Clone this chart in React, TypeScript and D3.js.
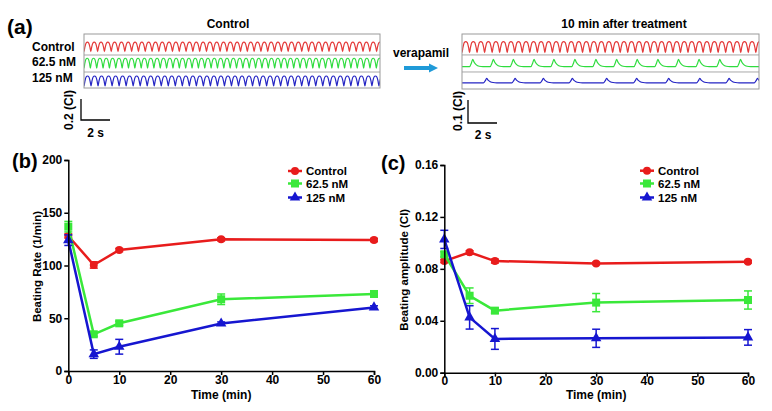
import React, { useEffect, useRef } from 'react';
import * as d3 from 'd3';

const FONT = '"Liberation Sans", Arial, sans-serif';
const RED = '#e81c1c';
const GREEN = '#3ae83a';
const BLUE = '#1616d0';
const TRACE_COLORS = ['#e43a3a', '#2fdc3f', '#2424c4'];

// ---- panel (a) traces ----
const traceNames = ['Control', '62.5 nM', '125 nM'];
// before treatment: beat period (s), trough level (CI), amplitude (CI)
const beforePeriods = [0.469, 0.438, 0.484];
const beforeLevels = [0.346, 0.188, 0.019];
const beforeAmps = [0.09, 0.095, 0.095];
// 10 min after treatment
const afterRedPeriod = 0.52;
const afterLevels = [0.158, 0.097, 0.027];
const afterAmps = [0.048, 0.032, 0.019];
const afterGreenBeats = [0.74, 2.16, 3.54, 4.97, 6.34, 7.79, 9.24, 10.67, 12.09, 13.52, 14.94, 16.36, 17.79, 19.22];
const afterBlueBeats = [1.7, 3.66, 5.61, 7.61, 9.98, 12.05, 14.26, 16.41, 18.43, 20.39];
// one beat, phase -> level
const waveShape = [[0, 0], [0.12, 0.45], [0.3, 0.9], [0.5, 1], [0.7, 0.9], [0.88, 0.45]];
// spike around peak time (s) -> level
const spikeShape = [[-0.22, 0], [-0.09, 0.5], [0, 1], [0.1, 0.6], [0.25, 0.25], [0.45, 0.06], [0.7, 0]];

// ---- panels (b), (c) ----
const times = [0, 5, 10, 30, 60];
const seriesNames = ['Control', '62.5 nM', '125 nM'];
const rateControl = [128, 100.5, 114.7, 124.8, 124.2];
const rateControlErr = [2, 3, 1.5, 1.5, 1.5];
const rate625 = [136.8, 34.8, 45.2, 68, 73];
const rate625Err = [5, 2, 2, 5, 2.5];
const rate125 = [124, 16, 23, 45, 60.3];
const rate125Err = [5, 4, 7, 1.5, 1.5];
const ampControl = [0.086, 0.0927, 0.086, 0.0842, 0.0855];
const ampControlErr = [0.0012, 0.0012, 0.0015, 0.001, 0.001];
const amp625 = [0.0912, 0.0593, 0.0478, 0.054, 0.056];
const amp625Err = [0.002, 0.006, 0.002, 0.007, 0.007];
const amp125 = [0.1027, 0.0426, 0.026, 0.0265, 0.0272];
const amp125Err = [0.007, 0.009, 0.008, 0.007, 0.006];
const rateTicks = [0, 50, 100, 150, 200];
const ampTicks = [0, 0.04, 0.08, 0.12, 0.16];
const timeTicks = [0, 10, 20, 30, 40, 50, 60];

const COLORS = [RED, GREEN, BLUE];
const SHAPES = ['circle', 'square', 'triangle'];

function periodicPoints(period: number, level: number, amp: number, duration: number) {
  const pts: [number, number][] = [];
  for (let t = -period; t < duration + period; t += period) {
    waveShape.forEach(([p, v]) => pts.push([t + p * period, level + v * amp]));
  }
  return pts;
}

function spikePoints(beats: number[], level: number, amp: number, duration: number) {
  const pts: [number, number][] = [[-1, level]];
  beats.forEach(b => spikeShape.forEach(([dt, v]) => pts.push([b + dt, level + v * amp])));
  pts.push([duration + 1, level]);
  return pts;
}

const TraceBox = ({ id, x0, x1, y0, y1, ciMax, dur, lines, dividers }) => {
  const xs = d3.scaleLinear().domain([0, dur]).range([x0, x1]);
  const ys = d3.scaleLinear().domain([0, ciMax]).range([y1, y0]);
  const line = d3.line<[number, number]>().x(d => xs(d[0])).y(d => ys(d[1])).curve(d3.curveMonotoneX);
  return (
    <g>
      <defs>
        <clipPath id={id}><rect x={x0} y={y0} width={x1 - x0} height={y1 - y0} /></clipPath>
      </defs>
      {dividers.map((d, i) => (
        <line key={i} x1={x0} x2={x1} y1={ys(d)} y2={ys(d)} stroke="#a8a8a8" strokeWidth={1} />
      ))}
      <g clipPath={`url(#${id})`}>
        {lines.map((pts, i) => (
          <path key={i} d={line(pts) || ''} fill="none" stroke={TRACE_COLORS[i]} strokeWidth={1.2} />
        ))}
      </g>
      <rect x={x0} y={y0} width={x1 - x0} height={y1 - y0} fill="none" stroke="#9a9a9a" strokeWidth={1} />
    </g>
  );
};

const Axis = ({ scale, orient, ticks, format, transform }) => {
  const ref = useRef<SVGGElement>(null);
  useEffect(() => {
    const ax = orient === 'left' ? d3.axisLeft(scale) : d3.axisBottom(scale);
    ax.tickValues(ticks).tickFormat(format).tickSizeOuter(0).tickSize(4).tickPadding(orient === 'left' ? 2 : 0);
    const g = d3.select(ref.current);
    g.call(ax as any);
    g.attr('font-size', 12).attr('font-family', FONT);
    g.selectAll('text').attr('font-family', FONT).attr('font-size', 12).attr('font-weight', 'bold').attr('fill', '#000');
    g.select('.domain').attr('stroke-width', 1.5);
    g.selectAll('.tick line').attr('stroke-width', 1.5);
  });
  return <g ref={ref} transform={transform} />;
};

const Marker = ({ shape, x, y, color }) => {
  if (shape === 'circle') return <circle cx={x} cy={y} r={4} fill={color} />;
  if (shape === 'square') return <rect x={x - 4} y={y - 4} width={8} height={8} fill={color} />;
  const p = d3.symbol().type(d3.symbolTriangle).size(48)();
  return <path d={p || ''} transform={`translate(${x},${y})`} fill={color} />;
};

const LinePanel = ({ x0, x1, yTop, yBottom, yMax, yTicks, yFormat, series, errors, yLabel, yLabelX, legendX, legendY }) => {
  const xs = d3.scaleLinear().domain([0, 60]).range([x0, x1]);
  const ys = d3.scaleLinear().domain([0, yMax]).range([yBottom, yTop]);
  const line = d3.line<number>().x((_, i) => xs(times[i])).y(d => ys(d));
  return (
    <g>
      {series.map((vals, s) => (
        <g key={s}>
          {vals.map((v, i) => {
            const e = errors[s][i];
            const cx = xs(times[i]);
            return (
              <g key={i} stroke={COLORS[s]} strokeWidth={1.5}>
                <line x1={cx} x2={cx} y1={ys(v - e)} y2={ys(v + e)} />
                <line x1={cx - 4} x2={cx + 4} y1={ys(v - e)} y2={ys(v - e)} />
                <line x1={cx - 4} x2={cx + 4} y1={ys(v + e)} y2={ys(v + e)} />
              </g>
            );
          })}
          <path d={line(vals) || ''} fill="none" stroke={COLORS[s]} strokeWidth={2.5} />
          {vals.map((v, i) => (
            <Marker key={i} shape={SHAPES[s]} x={xs(times[i])} y={ys(v)} color={COLORS[s]} />
          ))}
        </g>
      ))}
      <Axis scale={ys} orient="left" ticks={yTicks} format={yFormat} transform={`translate(${x0},0)`} />
      <Axis scale={xs} orient="bottom" ticks={timeTicks} format={d3.format('d')} transform={`translate(0,${yBottom})`} />
      <text x={(x0 + x1) / 2} y={398.5} textAnchor="middle" fontFamily={FONT} fontSize={12} fontWeight="bold">Time (min)</text>
      <text transform={`translate(${yLabelX},${(yTop + yBottom) / 2 + 1}) rotate(-90)`} textAnchor="middle"
        fontFamily={FONT} fontSize={11.5} fontWeight="bold">{yLabel}</text>
      {seriesNames.map((n, s) => (
        <g key={n} transform={`translate(${legendX},${legendY[s]})`}>
          <line x1={0} x2={14} stroke={COLORS[s]} strokeWidth={2.5} />
          <Marker shape={SHAPES[s]} x={7} y={0} color={COLORS[s]} />
          <text x={18} y={4} fontFamily={FONT} fontSize={11.5} fontWeight="bold">{n}</text>
        </g>
      ))}
    </g>
  );
};

const App = () => {
  const beforeLines = beforePeriods.map((p, i) => periodicPoints(p, beforeLevels[i], beforeAmps[i], 20.4));
  const afterLines = [
    periodicPoints(afterRedPeriod, afterLevels[0], afterAmps[0], 20.5),
    spikePoints(afterGreenBeats, afterLevels[1], afterAmps[1], 20.5),
    spikePoints(afterBlueBeats, afterLevels[2], afterAmps[2], 20.5),
  ];
  const bold = { fontFamily: FONT, fontWeight: 'bold' as const };
  return (
    <div style={{ position: 'absolute', left: 0, top: 0 }}>
      <svg width={772} height={411} style={{ display: 'block', background: '#fff' }}>
        {/* (a) */}
        <text x={7} y={34} fontSize={21} {...bold}>(a)</text>
        <text x={228} y={28} textAnchor="middle" fontSize={12} {...bold}>Control</text>
        <text x={624} y={28} textAnchor="middle" fontSize={12} {...bold}>10 min after treatment</text>
        {traceNames.map((n, i) => (
          <text key={n} x={32} y={[51, 66, 82][i]} fontSize={12} {...bold}>{n}</text>
        ))}
        <TraceBox id="clipL" x0={84} x1={380} y0={34} y1={88} ciMax={0.514} dur={20.4}
          lines={beforeLines} dividers={[0.314, 0.152]} />
        <TraceBox id="clipR" x0={462} x1={759} y0={34} y1={89} ciMax={0.239} dur={20.5}
          lines={afterLines} dividers={[0.148, 0.074]} />
        {/* scale bars */}
        <path d="M81,99 V120 H110" fill="none" stroke="#000" strokeWidth={1.3} />
        <text transform="translate(73,110) rotate(-90)" textAnchor="middle" fontSize={12} {...bold}>0.2 (CI)</text>
        <text x={95.5} y={137} textAnchor="middle" fontSize={12} {...bold}>2 s</text>
        <path d="M468,100 V123 H497" fill="none" stroke="#000" strokeWidth={1.3} />
        <text transform="translate(462,111) rotate(-90)" textAnchor="middle" fontSize={12} {...bold}>0.1 (CI)</text>
        <text x={483} y={139} textAnchor="middle" fontSize={12} {...bold}>2 s</text>
        {/* verapamil arrow */}
        <text x={421} y={57} textAnchor="middle" fontSize={12} {...bold}>verapamil</text>
        <line x1={404} x2={430} y1={68} y2={68} stroke="#1f9ad8" strokeWidth={4} />
        <path d="M429,63.5 L438,68 L429,72.5 Z" fill="#1f9ad8" />

        {/* (b) */}
        <text x={12} y={168} fontSize={20} {...bold}>(b)</text>
        <LinePanel x0={68.3} x1={374} yTop={160} yBottom={371} yMax={200} yTicks={rateTicks}
          yFormat={d3.format('d')} series={[rateControl, rate625, rate125]}
          errors={[rateControlErr, rate625Err, rate125Err]} yLabel="Beating Rate (1/min)" yLabelX={41}
          legendX={288} legendY={[171, 183.5, 197.5]} />

        {/* (c) */}
        <text x={381} y={170} fontSize={20} {...bold}>(c)</text>
        <LinePanel x0={444.3} x1={748} yTop={165} yBottom={372.7} yMax={0.16} yTicks={ampTicks}
          yFormat={d3.format('.2f')} series={[ampControl, amp625, amp125]}
          errors={[ampControlErr, amp625Err, amp125Err]} yLabel="Beating amplitude (CI)" yLabelX={407.5}
          legendX={640} legendY={[170.7, 183.5, 197.5]} />
      </svg>
    </div>
  );
};

export default App;
